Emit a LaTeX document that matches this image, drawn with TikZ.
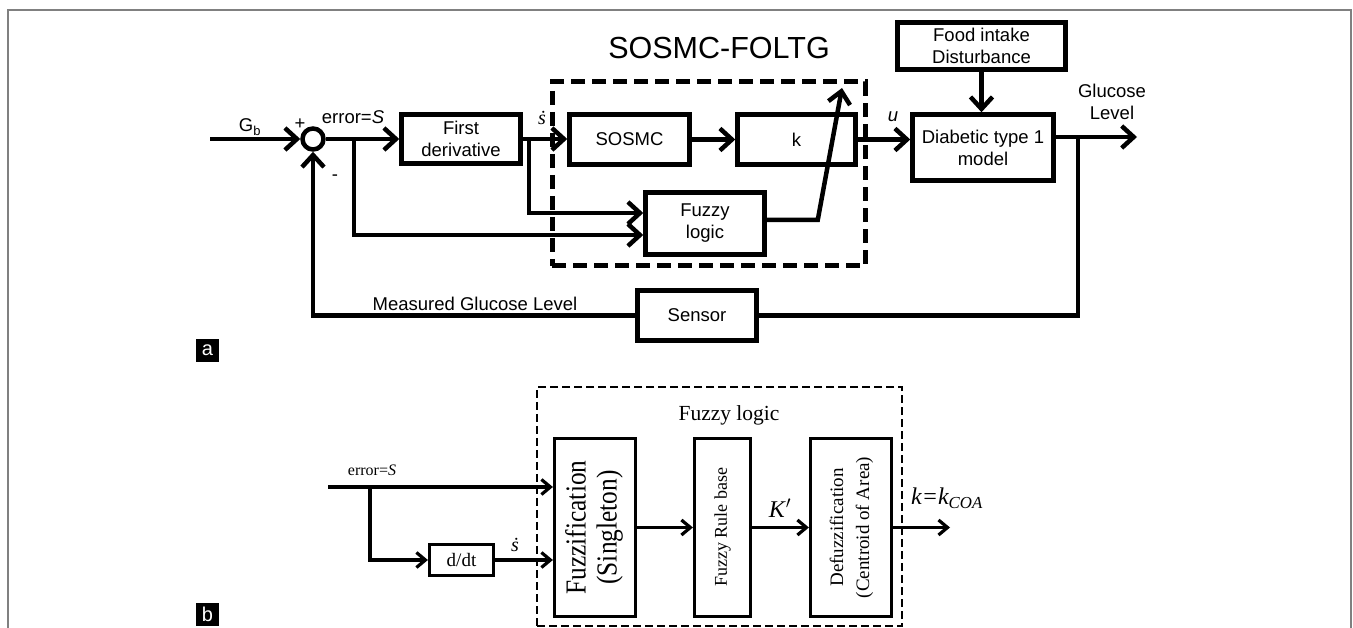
\documentclass[tikz,border=0pt]{standalone}
\usepackage{fontspec}
\setmainfont{Liberation Serif}
\setsansfont{Liberation Sans}
\usepackage{amsmath}
\usetikzlibrary{arrows.meta}
\newcommand{\fsz}[2]{\fontsize{#1}{#2}\selectfont}

\begin{document}
\begin{tikzpicture}[x=1pt,y=-1pt,
  lbl/.style={font=\sffamily\fsz{18.5}{22}, inner sep=0pt, align=center},
  blk/.style={draw=black, line width=4.5pt, inner sep=0pt, align=center, font=\sffamily\fsz{18.5}{22}},
  conn/.style={draw=black, line width=4.5pt, -{Straight Barb[length=12pt,width=22pt]}},
  wire/.style={draw=black, line width=4.5pt},
  dbox/.style={draw=black, line width=5pt, dash pattern=on 14pt off 7pt},
  sblk/.style={draw=black, line width=3.2pt, inner sep=0pt, align=center, font=\fsz{19}{26}},
  sconn/.style={draw=black, line width=3.2pt, -{Straight Barb[length=9pt,width=15pt]}},
  slbl/.style={font=\fsz{18}{22}, inner sep=0pt},
  tag/.style={fill=black, text=white, minimum size=23pt, inner sep=0pt, font=\sffamily\fsz{20}{20}}]
\useasboundingbox (0,0) rectangle (1353,628);
% frame:
\draw[draw=black!50, line width=1.5pt] (8,628) -- (8,10) -- (1351,10) -- (1351,628);

% part a, blocks:
\node[dbox, minimum width=313pt, minimum height=184pt] (ctl) at (708.5,174) {};
\node[font=\sffamily\fsz{30.5}{30}, inner sep=0pt] (title) at (719,48) {SOSMC-FOLTG};
\node[circle, draw=black, line width=4.5pt, minimum size=21pt, inner sep=0pt] (sum) at (313,139) {};
\node[blk, minimum width=119pt, minimum height=49pt] (fd) at (461,139) {First\\derivative};
\node[blk, minimum width=120pt, minimum height=50pt] (sm) at (629.5,139.5) {SOSMC};
\node[blk, minimum width=118pt, minimum height=50pt] (kb) at (796.5,139.5) {k};
\node[blk, minimum width=119pt, minimum height=62pt] (fz) at (705,223.5) {Fuzzy\\logic};
\node[blk, minimum width=141pt, minimum height=66pt] (dm) at (983,147.5) {Diabetic type 1\\model};
\node[blk, minimum width=168pt, minimum height=47pt] (fi) at (981.5,46) {Food intake\\Disturbance};
\node[blk, minimum width=119pt, minimum height=50pt] (sen) at (697,315.5) {Sensor};

% part a, labels:
\node[lbl] (gbl) at (250,127) {G\textsubscript{b}};
\node[lbl] (plus) at (300,124) {+};
\node[lbl] (minus) at (335,178) {-};
\node[lbl] (errl) at (353,117) {error=\textit{S}};
\node[font=\fsz{20}{20}, inner sep=0pt] (sdl) at (542,118) {\textit{\.s}};
\node[lbl] (ul) at (893,117) {\textit{u}};
\node[lbl] (gl) at (1112,102) {Glucose\\Level};
\node[lbl] (mgl) at (475,304) {Measured Glucose Level};
\node[tag] (taga) at (207.5,350.5) {a};

% part a, connectors:
\coordinate (gin) at (210,139);
\coordinate (ebr) at (354,139);
\coordinate (sbr) at (529,139);
\coordinate (ktip) at (842,88);
\coordinate (gbr) at (1078,137);
\coordinate (gout) at (1137,137);
\draw[conn] (gin) -- (sum.west);
\draw[conn] (sum.east) -- (fd.west);
\draw[conn] (ebr) |- ([yshift=-11.5pt]fz.west);
\draw[conn] (fd.east) -- (fd.east -| sm.west);
\draw[conn] (sbr) |- ([yshift=10.5pt]fz.west);
\draw[conn] (sm.east) -- (kb.west);
\draw[conn] ([yshift=3.5pt]fz.east) -- ++(51,0) -- (ktip);
\draw[conn] (kb.east) -- (kb.east -| dm.west);
\draw[conn] (fi.south) -- (fi.south |- dm.north);
\draw[conn] (dm.east |- gbr) -- (gout);
\draw[wire] (gbr) |- (sen.east);
\draw[conn] (sen.west) -| (sum.south);

% part b, blocks:
\node[draw=black, line width=2.8pt, dash pattern=on 8pt off 4pt, minimum width=365pt, minimum height=239pt] (flb) at (719.5,506.5) {};
\node[slbl, font=\fsz{21.5}{22}] (flt) at (729,415) {Fuzzy logic};
\node[sblk, minimum width=81pt, minimum height=178pt] (fzf) at (595,527.5) {};
\node[rotate=90, inner sep=0pt, font=\fsz{29}{31}] (fzft) at (fzf) {\scalebox{0.875}[1]{\begin{tabular}{@{}c@{}}Fuzzification\\(Singleton)\end{tabular}}};
\node[sblk, minimum width=56pt, minimum height=178pt] (frb) at (722.5,527.5) {};
\node[rotate=90, inner sep=0pt, font=\fsz{18}{20}] (frbt) at (frb) {Fuzzy Rule base};
\node[sblk, minimum width=81pt, minimum height=178pt] (dfz) at (851,527.5) {};
\node[rotate=90, inner sep=0pt, font=\fsz{19}{26}] (dfzt) at (dfz) {\begin{tabular}{@{}c@{}}Defuzzification\\(Centroid of Area)\end{tabular}};
\node[sblk, minimum width=64pt, minimum height=31pt] (ddt) at (461.5,560) {d/dt};

% part b, labels:
\node[slbl, font=\fsz{16}{16}] (errb) at (372,470) {error=\textit{S}};
\node[slbl, font=\fsz{20}{20}] (sdb) at (515,545) {\textit{\.s}};
\node[slbl, font=\fsz{24}{24}] (kpl) at (780,508) {\textit{K}$'$};
\node[slbl, font=\fsz{24}{24}] (kcl) at (947,498) {\textit{k=k\textsubscript{COA}}};
\node[tag] (tagb) at (207.5,614) {b};

% part b, connectors:
\coordinate (ein) at (328,487);
\coordinate (ebr2) at (370,487);
\coordinate (kout) at (950,527.5);
\draw[sconn] (ein) -- (ein -| fzf.west);
\draw[sconn] (ebr2) |- (ddt.west);
\draw[sconn] (ddt.east) -- (ddt.east -| fzf.west);
\draw[sconn] (fzf.east) -- (frb.west);
\draw[sconn] (frb.east) -- (dfz.west);
\draw[sconn] (dfz.east) -- (kout);
\end{tikzpicture}
\end{document}
